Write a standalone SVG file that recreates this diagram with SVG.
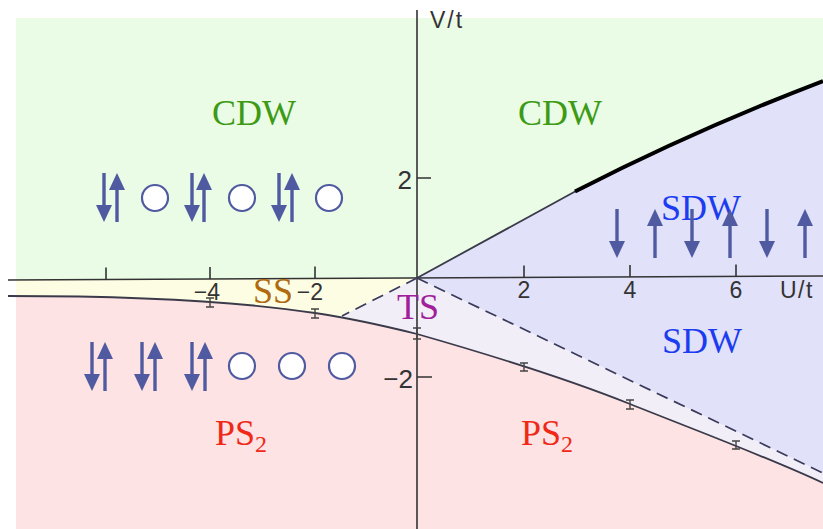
<svg xmlns="http://www.w3.org/2000/svg" xmlns:xlink="http://www.w3.org/1999/xlink" width="823" height="529" viewBox="0 0 823 529">
<style>
.ax{stroke:#333;stroke-width:1.6;fill:none}
.bd{stroke:#3a3a4a;stroke-width:1.8;fill:none}
.ds{stroke:#3a3a5a;stroke-width:1.7;fill:none;stroke-dasharray:12 7}
.eb{stroke:#444;stroke-width:1.4;fill:none}
.tk{font-family:"Liberation Sans",Arial,sans-serif;font-size:23px;fill:#333}
.tky{font-family:"Liberation Sans",Arial,sans-serif;font-size:26px;fill:#333}
.ph{font-family:"Liberation Serif","Times New Roman",serif;font-size:36px}
.arr{fill:#4f5aa0;stroke:none}
.site{fill:#fff;stroke:#4f5aa0;stroke-width:2.2}
</style>
<defs>
<g id="up"><rect x="-1.7" y="8" width="3.4" height="41" class="arr"/><polygon points="0,0 -8,17 8,17" class="arr"/></g>
<g id="dn"><rect x="-1.7" y="0" width="3.4" height="41" class="arr"/><polygon points="0,49 -8,32 8,32" class="arr"/></g>
</defs>
<rect width="823" height="529" fill="#fff"/>
<g id="regions">
<rect id="cdw-region" x="16" y="18" width="807" height="263" fill="#eafbe6"/>
<polygon id="ss-region" points="16,280 417,278 342,316 16,316" fill="#fdfde3"/>
<polygon id="ts-region" points="417,278 823,473 823,529 342,529 342,316" fill="#f2eef8"/>
<path id="ps-region" d="M16,296 C120,296 230,300 315,313 C355,319 385,326 417,334 C480,352 560,376 630,404 C700,432 770,458 823,483 L823,529 L16,529 Z" fill="#fde3e3"/>
<path id="sdw-region" d="M417,278 L575,191 Q695,131 823,81 L823,473 Z" fill="#e1e1fa"/>
</g>
<g id="connectors">
<line class="ax" x1="8" y1="280" x2="823" y2="276"/>
<line class="ax" x1="417" y1="10" x2="417" y2="529"/>
<path class="ax" d="M106,279.5v-12 M210,279v-12 M315,278.5v-12 M524,277.5v-12 M630,277v-12 M736,276.5v-12 M417,178h14 M417,377h15"/>
<path class="bd" d="M8,296 C120,296 230,300 315,313 C355,319 385,326 417,334 C480,352 560,376 630,404 C700,432 770,458 823,483"/>
<line class="bd" x1="417" y1="278" x2="576" y2="191"/>
<path d="M575,191.5 Q695,130 823,81" stroke="#000" stroke-width="4" fill="none"/>
<line class="ds" x1="417" y1="278" x2="823" y2="473"/>
<line class="ds" x1="417" y1="278" x2="342" y2="316"/>
<path class="eb" d="M210,298v9 M206,298h8 M206,307h8 M315,309v9 M311,309h8 M311,318h8 M417,328v11 M413,328h8 M413,339h8 M524,363v8 M520,363h8 M520,371h8 M630,400v9 M626,400h8 M626,409h8 M736,441v8 M732,441h8 M732,449h8"/>
</g>
<g id="axis-labels">
<text class="tk" x="430" y="28" letter-spacing="2">V/t</text>
<text class="tk" x="780" y="298" letter-spacing="1.5">U/t</text>
<text class="tk" x="220" y="300" text-anchor="end">−4</text>
<text class="tk" x="323" y="300" text-anchor="end">−2</text>
<text class="tk" x="524" y="298" text-anchor="middle">2</text>
<text class="tk" x="630" y="298" text-anchor="middle">4</text>
<text class="tk" x="736" y="298" text-anchor="middle">6</text>
<text class="tky" x="412" y="189" text-anchor="end">2</text>
<text class="tky" x="413" y="388" text-anchor="end">−2</text>
</g>
<g id="phase-labels">
<text id="cdw-left" class="ph" x="212" y="125" fill="#3c9a14">CDW</text>
<text id="cdw-right" class="ph" x="518" y="125" fill="#3c9a14">CDW</text>
<text id="sdw-top" class="ph" x="661" y="220" fill="#1c3cf0">SDW</text>
<text id="sdw-bottom" class="ph" x="662" y="353" fill="#1c3cf0">SDW</text>
<text id="ps-left" class="ph" x="215" y="445" fill="#f02818">PS<tspan font-size="24" dy="7">2</tspan></text>
<text id="ps-right" class="ph" x="521" y="445" fill="#f02818">PS<tspan font-size="24" dy="7">2</tspan></text>
<text id="ss" class="ph" x="253" y="303" font-size="28" fill="#b06a10">SS</text>
<text id="ts" class="ph" x="397" y="319" font-size="33" fill="#a0209a">TS</text>
</g>
<g id="cdw-pattern">
<use xlink:href="#dn" x="104" y="173"/><use xlink:href="#up" x="117" y="173"/>
<circle class="site" cx="155" cy="198" r="13"/>
<use xlink:href="#dn" x="192" y="173"/><use xlink:href="#up" x="204" y="173"/>
<circle class="site" cx="242" cy="198" r="13"/>
<use xlink:href="#dn" x="279" y="173"/><use xlink:href="#up" x="292" y="173"/>
<circle class="site" cx="329" cy="198" r="13"/>
</g>
<g id="ps-pattern">
<use xlink:href="#dn" x="92" y="342"/><use xlink:href="#up" x="105" y="342"/>
<use xlink:href="#dn" x="142" y="342"/><use xlink:href="#up" x="155" y="342"/>
<use xlink:href="#dn" x="192" y="342"/><use xlink:href="#up" x="205" y="342"/>
<circle class="site" cx="242" cy="366" r="13"/>
<circle class="site" cx="292" cy="366" r="13"/>
<circle class="site" cx="342" cy="366" r="13"/>
</g>
<g id="sdw-pattern">
<use xlink:href="#dn" x="617" y="209"/><use xlink:href="#up" x="655" y="209"/>
<use xlink:href="#dn" x="692" y="209"/><use xlink:href="#up" x="730" y="209"/>
<use xlink:href="#dn" x="767" y="209"/><use xlink:href="#up" x="805" y="209"/>
</g>
</svg>
